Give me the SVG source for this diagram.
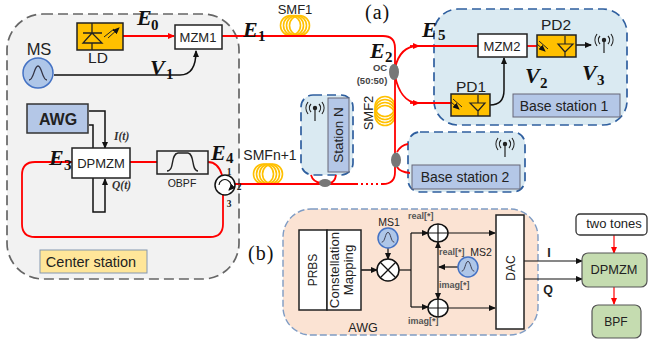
<svg xmlns="http://www.w3.org/2000/svg" width="650" height="344" viewBox="0 0 650 344">
<defs>
<marker id="ak" markerWidth="7" markerHeight="6" refX="6" refY="3" orient="auto" markerUnits="userSpaceOnUse"><path d="M0 0L7 3L0 6z" fill="#111"/></marker>
<marker id="ar" markerWidth="7" markerHeight="6" refX="6" refY="3" orient="auto" markerUnits="userSpaceOnUse"><path d="M0 0L7 3L0 6z" fill="#f00"/></marker>
<g id="coil" fill="none" stroke="#ffc000" stroke-width="1.6"><circle cx="-4.5" r="10"/><circle cx="-1.5" r="10"/><circle cx="1.5" r="10"/><circle cx="4.5" r="10"/></g>
<g id="ant" fill="none" stroke="#222" stroke-width="1.2"><circle r="1.6" fill="#222"/><path d="M0 2V13M-4 -4A6 6 0 0 0 -4 4M4 -4A6 6 0 0 1 4 4M-7 -6A10 10 0 0 0 -7 6M7 -6A10 10 0 0 1 7 6"/></g>
<g id="sine"><path d="M-9 6C-4 6 -4 -8 0 -8C4 -8 4 6 9 6" fill="none" stroke="#334" stroke-width="1.3"/></g>
<g id="pd"><path d="M-6 -5L3 3M-8 -2L0 5" stroke="#222" stroke-width="1" fill="none" marker-end="url(#ak)"/></g>
<g id="add"><ellipse rx="10" ry="9" fill="#fff" stroke="#111" stroke-width="1.5"/><path d="M-10 0H10M0 -9V9" stroke="#111" stroke-width="1.2"/></g>
</defs>
<style>
text{font-family:"Liberation Sans",Arial,sans-serif;fill:#222}
.m{font-family:"Liberation Serif","DejaVu Serif",serif;font-weight:bold;font-style:italic;font-size:22px;fill:#111}
.ms{font-family:"Liberation Serif",serif;font-weight:bold;font-size:15px;fill:#111}
.it{font-family:"Liberation Serif",serif;font-weight:bold;font-style:italic;font-size:11.5px;fill:#333}
.n{font-family:"Liberation Serif",serif;font-weight:bold;font-size:9.5px;fill:#222;text-anchor:middle}
.par{font-family:"Liberation Serif",serif;font-size:20px;letter-spacing:1px;fill:#111}
.tiny{font-size:9px;font-weight:bold;fill:#555}
.oct{font-size:9.5px;font-weight:bold;fill:#444;text-anchor:middle}
.c{text-anchor:middle}
.red{fill:none;stroke:#f00;stroke-width:1.8}
.red2{fill:none;stroke:#f00;stroke-width:1.2}
.blk{fill:none;stroke:#111;stroke-width:1.5}
.thin{fill:none;stroke:#111;stroke-width:1.2}
.box{fill:#fff;stroke:#222;stroke-width:1.5}
.dash{fill:#daeaf2;stroke:#2f5f9f;stroke-width:1.7;stroke-dasharray:9 5}
.lab{fill:#b4c7e7;stroke:#667;stroke-width:1}
.yel{fill:#ffc000;stroke:#222;stroke-width:1.5}
.ms-c{fill:#aec6e8;stroke:#4472c4;stroke-width:1.5}
.grn{fill:#c5dcb0;stroke:#555;stroke-width:1.2}
.oc{fill:#777}
</style>

<g id="center-station">
<rect x="7" y="14" width="232" height="265" rx="36" fill="#f2f2f2" stroke="#666" stroke-width="1.7" stroke-dasharray="10 5"/>
<rect x="40" y="250" width="107" height="23" fill="#ffe699" stroke="#8497b0"/>
<text x="91" y="267" class="c" font-size="14.5">Center station</text>
</g>
<g id="base-station-1"><rect class="dash" x="434" y="9" width="193" height="116" rx="24"/>
<rect class="lab" x="513" y="94" width="107" height="23"/><text x="564" y="111" class="c" font-size="14">Base station 1</text></g>
<g id="base-station-2"><rect class="dash" x="408" y="132" width="117" height="60" rx="12"/>
<rect class="lab" x="412" y="165" width="108" height="24"/><text x="465" y="182" class="c" font-size="14">Base station 2</text>
<use href="#ant" x="505" y="144"/></g>
<g id="station-n"><rect class="dash" x="301" y="95" width="52" height="80" rx="12"/>
<rect class="lab" x="328" y="98" width="21" height="74"/><text transform="translate(343,135) rotate(-90)" class="c" font-size="13.5">Station N</text>
<use href="#ant" x="315" y="108"/></g>
<g id="awg-panel"><rect x="283" y="209" width="255" height="126" rx="28" fill="#fbe3d3" stroke="#7f9cc4" stroke-width="1.4" stroke-dasharray="7 3"/>
<text x="363" y="332" class="c" font-size="12.5">AWG</text></g>

<g id="coils">
<use href="#coil" x="295" y="25.5"/>
<use href="#coil" x="268" y="174"/>
<g fill="none" stroke="#ffc000" stroke-width="1.6"><circle cx="385" cy="106.5" r="10"/><circle cx="385" cy="109.5" r="10"/><circle cx="385" cy="112.5" r="10"/><circle cx="385" cy="115.5" r="10"/></g>
</g>

<g id="connectors">
<path class="red" d="M123 36H174" marker-end="url(#ar)"/>
<path class="red" d="M222 36H383Q395 36 395 48V172Q395 184 383 184"/>
<path class="red" d="M383 184H357" stroke-dasharray="2 3"/>
<path class="red" d="M357 184H235"/>
<path class="red" d="M395 68C398 55 405 46 418 46"/>
<path class="red" d="M395 76C398 90 405 103 418 103"/>
<path class="red" d="M410 46H419" marker-end="url(#ar)"/>
<path class="red" d="M410 103H419" marker-end="url(#ar)"/>
<path class="red" d="M418 46H478M418 103H451"/>
<path class="red" d="M526 46H537"/>
<path class="red" d="M397 152Q401 145 408 144M397 167Q400 172 410 173"/>
<path class="red" d="M311 175Q313 182 321 183M336 175Q335 182 330 183"/>
<path class="red" d="M72 162H35Q22 162 22 175V224Q22 237 35 237H210Q223 237 223 224V195"/>
<path class="red" d="M130 162H157M208 162Q218 162 222 175"/>
<path class="blk" d="M54 75H180Q196 75 196 51" marker-end="url(#ak)"/>
<path class="blk" d="M89 111H105V148" marker-end="url(#ak)"/>
<path class="blk" d="M89 125H93V149"/>
<path class="blk" d="M93 178V212H105V179" marker-end="url(#ak)"/>
<path class="blk" d="M490 105Q504 105 504 90V58" marker-end="url(#ak)"/>
<path class="blk" d="M576 45H591" marker-end="url(#ak)"/>
<path class="blk" d="M361 270H377" marker-end="url(#ak)"/>
<path class="thin" d="M388 248V259" marker-end="url(#ak)"/>
<path class="thin" d="M399 270H411"/>
<path class="thin" d="M411 233V307"/>
<path class="thin" d="M411 233H428" marker-end="url(#ak)"/>
<path class="thin" d="M411 307H428" marker-end="url(#ak)"/>
<path class="thin" d="M448 233H495" marker-end="url(#ak)"/>
<path class="thin" d="M448 308H495" marker-end="url(#ak)"/>
<path class="thin" d="M438 267V242" marker-end="url(#ak)"/>
<path class="thin" d="M438 267V299" marker-end="url(#ak)"/>
<path class="thin" d="M458 267H439" marker-end="url(#ak)"/>
<path class="thin" d="M524 261H582" marker-end="url(#ak)"/>
<path class="thin" d="M524 279H582" marker-end="url(#ak)"/>
<path class="red2" d="M614 235V253" marker-end="url(#ar)"/>
<path class="red2" d="M614 287V304" marker-end="url(#ar)"/>
</g>

<g id="couplers"><ellipse class="oc" cx="394" cy="72" rx="5" ry="8"/><ellipse class="oc" cx="396" cy="160" rx="5" ry="7.5"/><ellipse class="oc" cx="325" cy="183" rx="6" ry="4"/></g>

<g id="ld"><rect class="yel" x="77" y="23" width="46" height="27"/>
<path d="M83 33H102M92 33L83 43H102ZM92 23V33M92 43V50" fill="none" stroke="#222" stroke-width="1.3"/>
<path d="M104 37L114 29M108 38L119 28" stroke="#222" stroke-width="1" marker-end="url(#ak)"/>
<text x="98" y="63" class="c" font-size="15.5">LD</text></g>
<g id="mzm1"><rect class="box" x="175" y="25" width="47" height="24"/><text x="198" y="42" class="c" font-size="13">MZM1</text></g>
<g id="ms"><circle class="ms-c" cx="38" cy="73" r="15"/><use href="#sine" x="38" y="74"/><text x="39" y="55" class="c" font-size="16.5">MS</text></g>
<g id="awg"><rect x="27" y="104" width="61" height="29" fill="#b4c7e7" stroke="#333" stroke-width="1.5"/><text x="58" y="125" class="c" font-size="16" font-weight="bold">AWG</text></g>
<g id="dpmzm"><rect class="box" x="72" y="148" width="58" height="30"/><text x="101" y="168" class="c" font-size="13">DPMZM</text></g>
<g id="obpf"><rect fill="#f2f2f2" stroke="#222" stroke-width="1.5" x="157" y="151" width="51" height="23"/><path d="M167 171C175 171 170 154 178 153H188C195 154 191 171 198 171" fill="none" stroke="#222" stroke-width="1.4"/><text x="182" y="187" class="c" font-size="10.5">OBPF</text></g>
<g id="circulator"><circle cx="225" cy="185" r="10" fill="#fff" stroke="#111" stroke-width="1.5"/><path d="M219 185A6 6 0 1 1 229 190" fill="none" stroke="#111" stroke-width="1.1" marker-end="url(#ak)"/></g>
<g id="mzm2"><rect class="box" x="478" y="34" width="49" height="23"/><text x="502" y="51" class="c" font-size="13">MZM2</text></g>
<g id="pd2"><rect class="yel" x="537" y="35" width="39" height="22"/><use href="#pd" x="545" y="46"/><path d="M558 44H573L565 52ZM565 36V44M565 52V57" fill="none" stroke="#222" stroke-width="1.2"/><text x="556" y="30" class="c" font-size="15.5">PD2</text></g>
<g id="pd1"><rect class="yel" x="451" y="94" width="39" height="22"/><use href="#pd" x="459" y="104"/><path d="M470 103H485L478 111ZM478 95V103M478 111V116" fill="none" stroke="#222" stroke-width="1.2"/><text x="471" y="92" class="c" font-size="15.5">PD1</text></g>
<use href="#ant" x="604" y="40"/>

<g id="prbs"><rect class="box" x="299" y="230" width="28" height="80"/><text transform="translate(317,270) rotate(-90)" class="c" font-size="12">PRBS</text></g>
<g id="constellation"><rect class="box" x="327" y="230" width="34" height="80"/><text transform="translate(339,270) rotate(-90)" class="c" font-size="13.2">Constellation</text><text transform="translate(353,270) rotate(-90)" class="c" font-size="13.2">Mapping</text></g>
<g id="mixer"><circle cx="388" cy="270" r="11" fill="#fff" stroke="#111" stroke-width="1.5"/><path d="M380 262L396 278M396 262L380 278" stroke="#111" stroke-width="1.3"/></g>
<g id="ms1"><circle class="ms-c" cx="388" cy="238" r="10"/><use href="#sine" transform="translate(388,238) scale(.7)"/><text x="389" y="226" class="c" font-size="10.5">MS1</text></g>
<g id="ms2"><circle class="ms-c" cx="468" cy="267" r="10"/><use href="#sine" transform="translate(468,267) scale(.7)"/><text x="481" y="256" class="c" font-size="10.5">MS2</text></g>
<g id="add1"><use href="#add" x="438" y="233"/></g>
<g id="add2"><use href="#add" x="438" y="308"/></g>
<g id="dac"><rect class="box" x="496" y="215" width="28" height="114"/><text transform="translate(515,268) rotate(-90)" class="c" font-size="12">DAC</text></g>
<g id="two-tones"><rect x="576" y="214" width="71" height="21" rx="4" fill="#fff" stroke="#333" stroke-width="1.3"/><text x="614" y="228" class="c" font-size="13">two tones</text></g>
<g id="dpmzm-b"><rect class="grn" x="582" y="253" width="65" height="34" rx="6"/><text x="614" y="274" class="c" font-size="12.8">DPMZM</text></g>
<g id="bpf"><rect class="grn" x="592" y="305" width="49" height="33" rx="6"/><text x="616" y="326" class="c" font-size="12">BPF</text></g>

<g id="labels">
<text x="137" y="25" class="m">E</text><text x="151" y="30" class="ms">0</text>
<text x="150" y="75" class="m">V</text><text x="166" y="79" class="ms">1</text>
<text x="243" y="37" class="m">E</text><text x="258" y="41" class="ms">1</text>
<text x="370" y="58" class="m">E</text><text x="385" y="62" class="ms">2</text>
<text x="49" y="165" class="m">E</text><text x="64" y="170" class="ms">3</text>
<text x="211" y="160" class="m">E</text><text x="226" y="163" class="ms">4</text>
<text x="422" y="37" class="m">E</text><text x="438" y="40" class="ms">5</text>
<text x="525" y="83" class="m">V</text><text x="540" y="88" class="ms">2</text>
<text x="582" y="80" class="m">V</text><text x="597" y="85" class="ms">3</text>
<text x="295" y="14" class="c" font-size="13">SMF1</text>
<text x="270" y="160" class="c" font-size="14">SMFn+1</text>
<text transform="translate(373,113) rotate(-90)" class="c" font-size="13">SMF2</text>
<text x="380" y="71" class="oct">OC</text>
<text x="372" y="84" class="oct">(50:50)</text>
<text x="365" y="19" class="par">(a)</text>
<text x="248" y="260" class="par">(b)</text>
<text x="114" y="140" class="it">I(t)</text>
<text x="112" y="189" class="it">Q(t)</text>
<text x="229" y="175" class="n">1</text>
<text x="239" y="190" class="n">2</text>
<text x="229" y="207" class="n">3</text>
<text x="408" y="219" class="tiny">real[*]</text>
<text x="439" y="255" class="tiny">real[*]</text>
<text x="439" y="288" class="tiny">imag[*]</text>
<text x="408" y="324" class="tiny">imag[*]</text>
<text x="549" y="257" class="c" font-size="12.5" font-weight="bold">I</text>
<text x="548" y="294" class="c" font-size="12.5" font-weight="bold">Q</text>
</g>
</svg>
